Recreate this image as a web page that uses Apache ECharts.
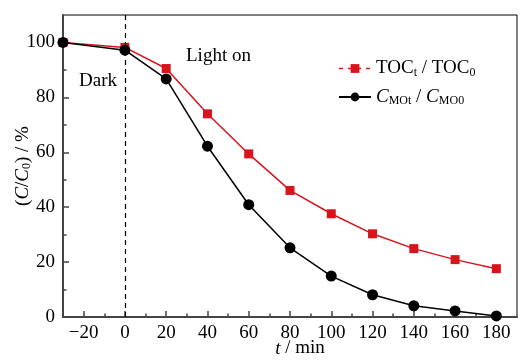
<!DOCTYPE html>
<html>
<head>
<meta charset="utf-8">
<script src="https://cdn.jsdelivr.net/npm/echarts@6/dist/echarts.min.js"></script>
<style>
  html, body { margin: 0; padding: 0; background: #fff; }
  #chart { width: 520px; height: 363px; }
</style>
</head>
<body>
<div id="chart"></div>
<script>
// Time points (min); -30 is the start of the dark adsorption stage
var times = [-30, 0, 20, 40, 60, 80, 100, 120, 140, 160, 180];
// TOC removal, TOC_t / TOC_0 (%)
var tocRatio = [100, 98.2, 90.5, 74.0, 59.4, 46.1, 37.6, 30.3, 24.9, 20.9, 17.6];
// Methyl orange concentration, C_MOt / C_MO0 (%)
var moRatio = [100, 97.2, 86.7, 62.2, 40.9, 25.2, 14.9, 8.1, 4.1, 2.2, 0.4];

var xMajor = [-20, 0, 20, 40, 60, 80, 100, 120, 140, 160, 180];
var xMinor = [-10, 10, 30, 50, 70, 90, 110, 130, 150, 170];
var yMajor = [0, 20, 40, 60, 80, 100];
var yMinor = [10, 30, 50, 70, 90];

var FONT = '"Liberation Serif", "Times New Roman", serif';
var AXIS_COLOR = '#444';

function pairs(xs, ys) {
  return xs.map(function (x, i) { return [x, ys[i]]; });
}

var chart = echarts.init(document.getElementById('chart'), null, { renderer: 'canvas' });

var subRich = {
  n: { fontFamily: FONT, fontSize: 19, color: '#000' },
  i: { fontFamily: FONT, fontSize: 19, fontStyle: 'italic', color: '#000' },
  s: { fontFamily: FONT, fontSize: 12, color: '#000', padding: [8, 0, 0, 0] }
};

chart.setOption({
  animation: false,
  backgroundColor: '#fff',
  grid: {
    left: 63, top: 15, right: 3, bottom: 46,
    outerBoundsMode: 'none', containLabel: false,
    show: true, borderColor: '#000', borderWidth: 1, backgroundColor: 'transparent'
  },
  legend: {
    orient: 'vertical',
    left: 333, top: 54,
    itemWidth: 32, itemHeight: 11, itemGap: 9,
    textStyle: { rich: subRich, fontFamily: FONT, fontSize: 19 },
    formatter: function (name) {
      if (name === 'TOCt / TOC0') return '{n|TOC}{s|t}{n| / TOC}{s|0}';
      return '{i|C}{s|MOt}{n| / }{i|C}{s|MO0}';
    },
    data: [
      { name: 'TOCt / TOC0', lineStyle: { type: [4, 5], width: 1.5 } },
      { name: 'CMOt / CMO0' }
    ]
  },
  xAxis: [
    {
      type: 'value', min: -30, max: 190,
      name: '{i|t}{n| / min}',
      nameLocation: 'middle', nameGap: 22, nameMoveOverlap: false,
      nameTextStyle: { rich: { n: { fontFamily: FONT, fontSize: 19, color: '#000' }, i: { fontFamily: FONT, fontSize: 19, fontStyle: 'italic', color: '#000' } }, padding: [0, 0, 0, 20] },
      axisLine: { show: true, onZero: false, lineStyle: { color: AXIS_COLOR, width: 2 } },
      axisTick: { show: true, inside: true, length: 6, customValues: xMajor, lineStyle: { color: AXIS_COLOR, width: 1.5 } },
      axisLabel: {
        customValues: xMajor, margin: 7,
        fontFamily: FONT, fontSize: 19, color: '#000',
        formatter: function (v) { return v < 0 ? '\u2212' + Math.abs(v) : String(v); }
      },
      splitLine: { show: false }
    },
    {
      type: 'value', min: -30, max: 190, position: 'bottom',
      axisLine: { show: false, onZero: false },
      axisTick: { show: true, inside: true, length: 3.5, customValues: xMinor, lineStyle: { color: AXIS_COLOR, width: 1.5 } },
      axisLabel: { show: false },
      splitLine: { show: false }
    }
  ],
  yAxis: [
    {
      type: 'value', min: 0, max: 110,
      name: '{p|(}{i|C}{p|/}{i|C}{s|0}{p|) / %}',
      nameLocation: 'middle', nameGap: 30, nameRotate: 90, nameMoveOverlap: false,
      nameTextStyle: { rich: {
        p: { fontFamily: FONT, fontSize: 19, color: '#000' },
        i: { fontFamily: FONT, fontSize: 19, fontStyle: 'italic', color: '#000' },
        s: { fontFamily: FONT, fontSize: 12, color: '#000', padding: [8, 0, 0, 0] }
      } },
      axisLine: { show: true, onZero: false, lineStyle: { color: AXIS_COLOR, width: 2 } },
      axisTick: { show: true, inside: true, length: 6, customValues: yMajor, lineStyle: { color: AXIS_COLOR, width: 1.5 } },
      axisLabel: { customValues: yMajor, margin: 8, fontFamily: FONT, fontSize: 19, color: '#000' },
      splitLine: { show: false }
    },
    {
      type: 'value', min: 0, max: 110, position: 'left',
      axisLine: { show: false, onZero: false },
      axisTick: { show: true, inside: true, length: 3.5, customValues: yMinor, lineStyle: { color: AXIS_COLOR, width: 1.5 } },
      axisLabel: { show: false },
      splitLine: { show: false }
    }
  ],
  graphic: [
    { type: 'text', left: 79, top: 72, style: { text: 'Dark', fontFamily: FONT, fontSize: 19, fill: '#000' } },
    { type: 'text', left: 186, top: 47, style: { text: 'Light on', fontFamily: FONT, fontSize: 19, fill: '#000' } }
  ],
  series: [
    {
      name: 'TOCt / TOC0', type: 'line',
      data: pairs(times, tocRatio),
      symbol: 'rect', symbolSize: 9,
      itemStyle: { color: '#d7141c' },
      lineStyle: { color: '#d7141c', width: 1.5 },
      z: 3
    },
    {
      name: 'CMOt / CMO0', type: 'line',
      data: pairs(times, moRatio),
      symbol: 'circle', symbolSize: 11,
      itemStyle: { color: '#000' },
      lineStyle: { color: '#000', width: 1.5 },
      z: 4,
      markLine: {
        silent: true, symbol: 'none', label: { show: false },
        lineStyle: { color: '#000', type: [5, 4], width: 1.2 },
        data: [{ xAxis: 0 }]
      }
    }
  ]
});
</script>
</body>
</html>
